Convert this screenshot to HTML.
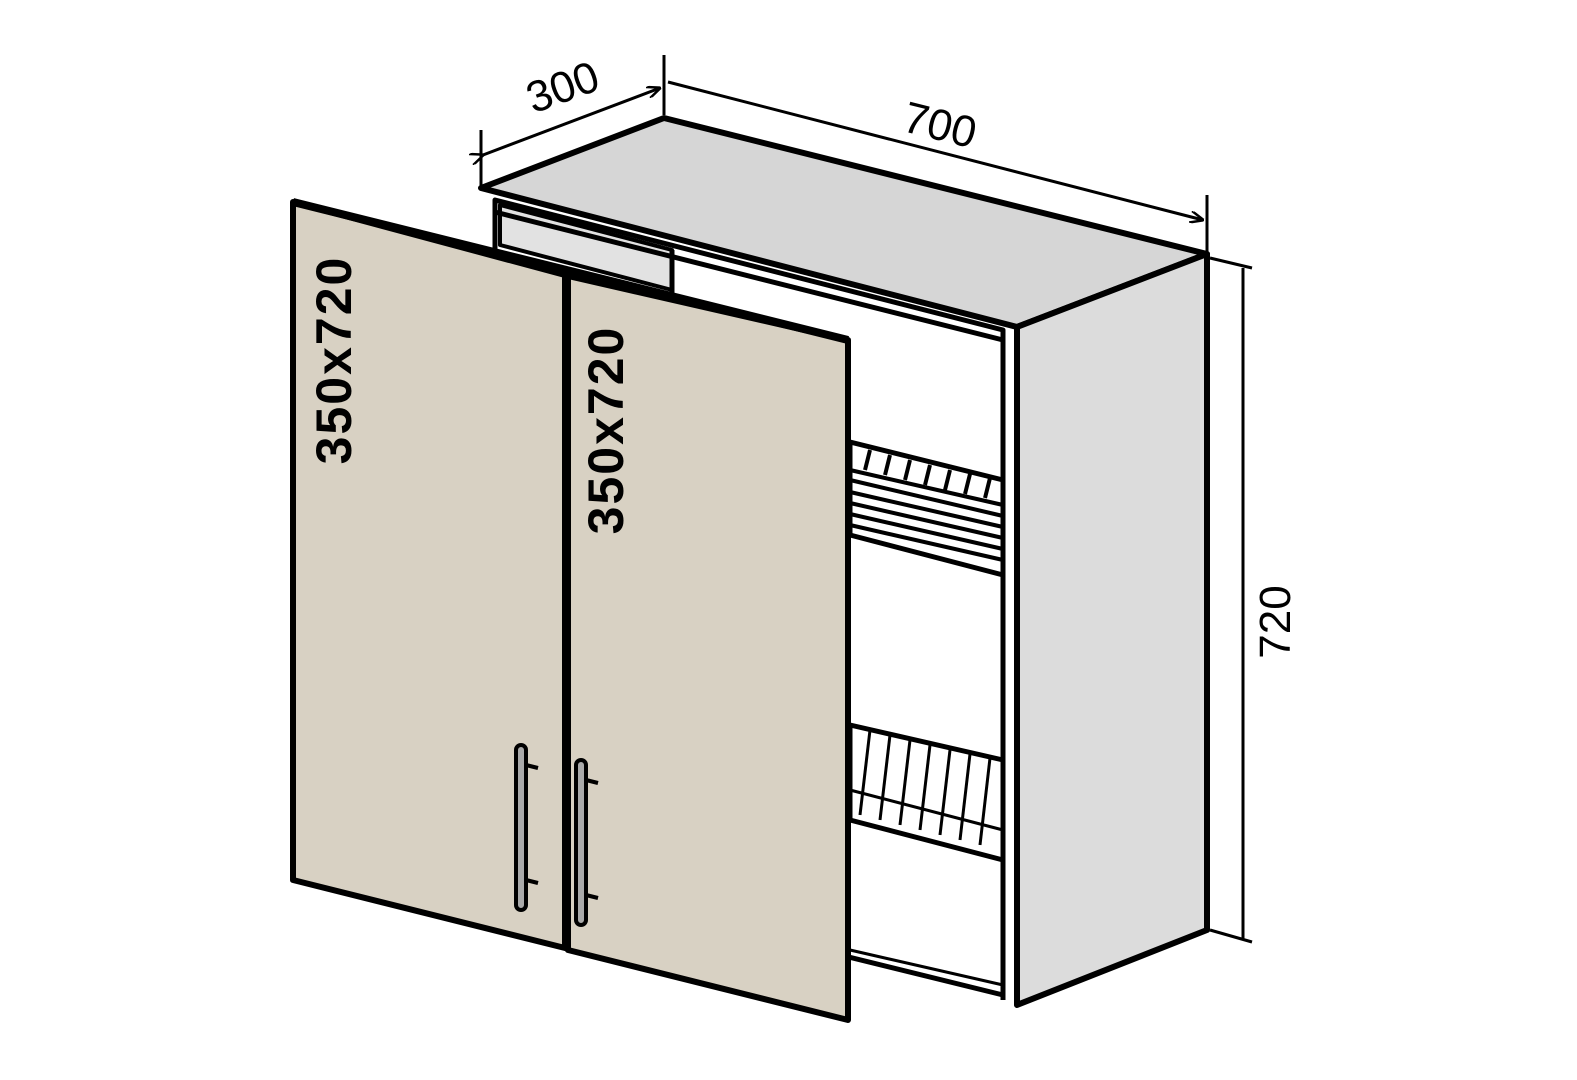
<!DOCTYPE html>
<html><head><style>html,body{margin:0;padding:0;background:#fff}svg{display:block}</style></head>
<body>
<svg width="1577" height="1080" viewBox="0 0 1577 1080" xmlns="http://www.w3.org/2000/svg">
<defs>
<marker id="ar" markerWidth="14" markerHeight="12" refX="13" refY="6" orient="auto" markerUnits="userSpaceOnUse">
<path d="M0,0 L14,6 L0,12" fill="none" stroke="#000" stroke-width="2.5"/></marker>
</defs>
<g stroke="#000" stroke-linejoin="round" fill="none">
<polygon points="481,188 664,118 1207,254 1017,327" fill="#d6d6d6" stroke-width="6"/>
<polygon points="1017,327 1207,254 1207,930 1017,1005" fill="#dcdcdc" stroke-width="6"/>
<polygon points="495,200 1003,330 1003,995 495,870" fill="#fff" stroke-width="5"/>
<polygon points="500,205 672,250 672,290 500,245" fill="#e2e2e2" stroke-width="4"/>
<line x1="495" y1="212" x2="1003" y2="340" stroke-width="5"/>
<line x1="672" y1="250" x2="672" y2="300" stroke-width="5"/>
<line x1="1003" y1="330" x2="1003" y2="1000" stroke-width="5"/>
<line x1="1017" y1="327" x2="1017" y2="1005" stroke-width="6"/>
<line x1="850" y1="950" x2="1003" y2="985" stroke-width="3"/>
<polygon points="850,442 1003,480 1003,575 850,535" fill="#fff" stroke-width="5"/>
<g stroke-width="4">
<line x1="850" y1="470" x2="1003" y2="505"/><line x1="850" y1="480" x2="1003" y2="516"/>
<line x1="850" y1="492" x2="1003" y2="527"/><line x1="850" y1="503" x2="1003" y2="538"/>
<line x1="850" y1="514" x2="1003" y2="549"/><line x1="850" y1="525" x2="1003" y2="560"/>
<line x1="870" y1="450" x2="865" y2="470"/><line x1="890" y1="455" x2="885" y2="475"/>
<line x1="910" y1="460" x2="905" y2="480"/><line x1="930" y1="465" x2="925" y2="485"/>
<line x1="950" y1="470" x2="945" y2="490"/><line x1="970" y1="474" x2="965" y2="494"/>
<line x1="990" y1="478" x2="985" y2="498"/>
</g>
<polygon points="850,725 1003,760 1003,860 850,820" fill="#fff" stroke-width="5"/>
<g stroke-width="3">
<line x1="870" y1="730" x2="860" y2="815"/><line x1="890" y1="735" x2="880" y2="820"/>
<line x1="910" y1="740" x2="900" y2="825"/><line x1="930" y1="745" x2="920" y2="830"/>
<line x1="950" y1="750" x2="940" y2="835"/><line x1="970" y1="754" x2="960" y2="840"/>
<line x1="990" y1="758" x2="980" y2="845"/>
<line x1="850" y1="790" x2="1003" y2="830"/>
</g>
<polygon points="293,202 565,275 565,948 293,880" fill="#d8d1c3" stroke-width="6"/>
<polygon points="568,276 848,340 848,1020 568,950" fill="#d8d1c3" stroke-width="6"/>
<line x1="293" y1="202" x2="848" y2="340" stroke-width="8"/>
<g stroke-width="4" fill="#aaa">
<rect x="516" y="745" width="10" height="165" rx="5"/>
<line x1="526" y1="765" x2="538" y2="768"/><line x1="526" y1="880" x2="538" y2="883"/>
<rect x="576" y="760" width="10" height="165" rx="5"/>
<line x1="586" y1="780" x2="598" y2="783"/><line x1="586" y1="895" x2="598" y2="898"/>
</g>
<g stroke-width="3">
<line x1="481" y1="130" x2="481" y2="188"/>
<line x1="664" y1="55" x2="664" y2="115"/>
<line x1="1207" y1="195" x2="1207" y2="254"/>
<line x1="483" y1="155" x2="660" y2="88" marker-end="url(#ar)" marker-start="url(#ar)"/>
<line x1="668" y1="82" x2="1203" y2="220" marker-end="url(#ar)"/>
<line x1="1210" y1="258" x2="1252" y2="268"/>
<line x1="1210" y1="930" x2="1252" y2="942"/>
<line x1="1243" y1="268" x2="1243" y2="940"/>
</g>
</g>
<g font-family="Liberation Sans, sans-serif" font-size="44" fill="#000">
<text x="563" y="102" text-anchor="middle" transform="rotate(-20 563 88)">300</text>
<text x="940" y="140" text-anchor="middle" transform="rotate(14 940 125)">700</text>
<text x="1290" y="622" text-anchor="middle" transform="rotate(-90 1290 622)">720</text>
<text x="333" y="378" text-anchor="middle" font-weight="bold" font-size="50" letter-spacing="2" transform="rotate(-90 333 360)">350x720</text>
<text x="605" y="448" text-anchor="middle" font-weight="bold" font-size="50" letter-spacing="2" transform="rotate(-90 605 430)">350x720</text>
</g>
</svg>
</body></html>
